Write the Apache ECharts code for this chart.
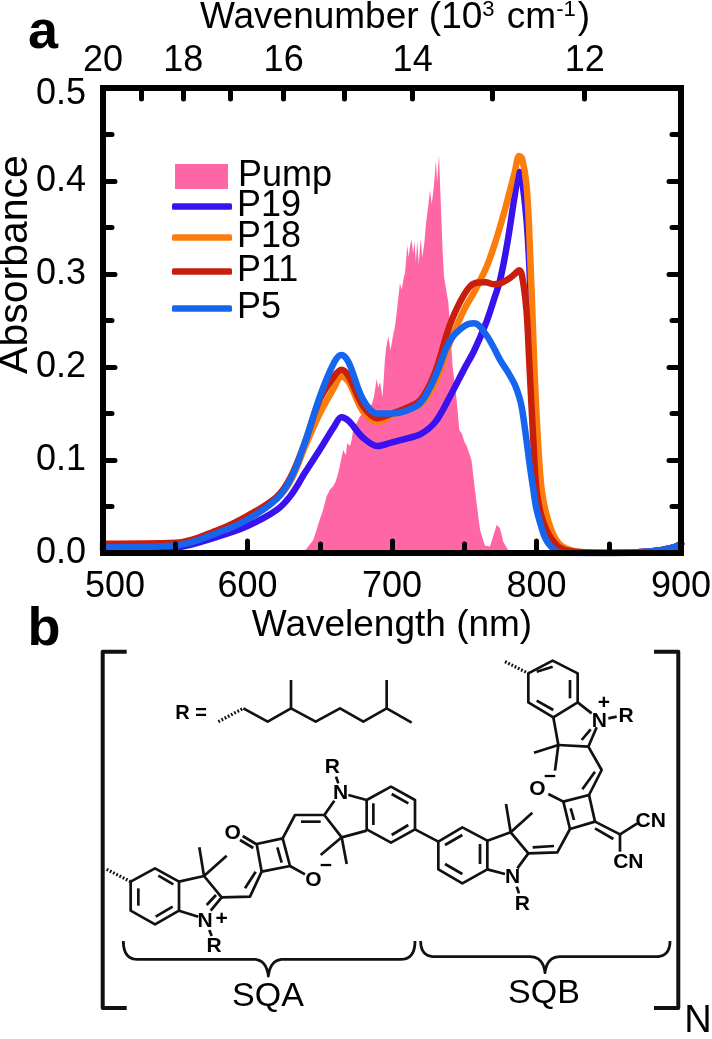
<!DOCTYPE html>
<html><head><meta charset="utf-8">
<style>html,body{margin:0;padding:0;background:#fff}#c{width:712px;height:1039px}</style>
<script src="https://cdn.jsdelivr.net/npm/echarts@6/dist/echarts.min.js"></script>
</head><body><div id="c"></div>
<script>
// ---- chart data ----
const wavelengths = [500,550,580,600,620,630,640,650,660,665,670,680,690,700,710,720,730,740,750,757,765,770,775,780,785,788,790,793,795,798,800,803,806,810,815,820,830,850,880,895,900];
const p5Values  = [.006,.008,.022,.036,.058,.080,.120,.168,.205,.213,.205,.165,.150,.150,.153,.162,.190,.228,.244,.247,.235,.222,.207,.195,.181,.168,.155,.122,.098,.066,.047,.030,.016,.007,.001,.000,.000,.000,.002,.006,.010];
const p11Values = [.010,.011,.025,.040,.060,.082,.120,.165,.190,.197,.190,.158,.145,.150,.156,.165,.195,.245,.278,.290,.291,.289,.290,.294,.300,.304,.298,.262,.205,.115,.068,.042,.028,.016,.007,.003,.001,.000,.002,.006,.010];
const p18Values = [.009,.010,.024,.038,.058,.078,.115,.150,.178,.190,.184,.152,.141,.148,.155,.160,.183,.226,.262,.281,.306,.327,.352,.380,.410,.427,.424,.397,.345,.222,.150,.076,.047,.026,.011,.005,.001,.000,.002,.006,.010];
const p19Values = [.004,.006,.018,.029,.046,.062,.087,.111,.136,.146,.142,.124,.115,.119,.123,.128,.141,.168,.198,.218,.247,.270,.295,.335,.385,.410,.400,.360,.310,.200,.130,.070,.040,.020,.008,.003,.000,.000,.002,.006,.010];
const pumpWavelengths = [636,640,645.5,648,650,652,654.8,657,659.4,661,662.8,664.5,666.3,668,669,670.9,672,673.2,675,677.8,680,682,684,686,687.5,689.4,690.5,691.7,693.5,695.1,696,697.4,699,700.5,702,703.5,705.5,706.7,708,709,710.6,711.5,712.5,713.6,714.6,715.6,716.5,717.5,718.5,719.8,721,722.5,723.5,725,726.3,727.5,729,730.4,731.2,732.5,733.7,735,736,739,742,744.7,746.6,748.5,750,751.7,755,757.4,760.9,764.3,767.8,770,772.4,774.7,777,781.6,785];
const pumpValues = [0,.003,.014,.026,.036,.045,.061,.068,.072,.077,.086,.098,.111,.105,.118,.115,.121,.133,.138,.147,.15,.152,.156,.16,.168,.187,.178,.184,.168,.208,.221,.233,.218,.232,.243,.262,.29,.283,.295,.301,.331,.318,.33,.337,.322,.335,.313,.336,.31,.338,.318,.335,.354,.372,.39,.375,.395,.422,.398,.428,.426,.326,.297,.269,.2,.165,.132,.128,.12,.115,.1,.068,.025,.008,.007,.018,.03,.027,.012,0,0];
const absorbanceRange = [0, 0.5];
const wavelengthRange = [500, 900];
const wavenumberLabels = [20,18,16,14,12];
const wavenumberMinor = [19,17,15,13];

// ---- colours and fonts ----
const FONT = '"Liberation Sans", Arial, sans-serif';
const PINK='#ff66a6', INDIGO='#3a12ee', ORANGE='#fb7d0c', RED='#c81f0c', BLUE='#1565ee';
const toPairs = (xs, ys) => ys.map((y,i)=>[xs[i],y]);
const toWl = k => 1e4/k;
const peakIndex = wavelengths.indexOf(788);

function lineSeries(name, values, color, z){
  return {type:'line', name, data:toPairs(wavelengths, values), smooth:0.35, symbol:'none', z,
    lineStyle:{width:6.5, color, cap:'round', join:'round'}, itemStyle:{color}, silent:true, animation:false};
}
const riseOfP19 = lineSeries('P19', p19Values.slice(0, peakIndex+1), INDIGO, 5);
riseOfP19.lineStyle.width = 5;

const series = [
  {type:'line', name:'Pump', data:toPairs(pumpWavelengths,pumpValues), symbol:'none', z:2,
   lineStyle:{width:0,color:PINK}, itemStyle:{color:PINK}, areaStyle:{color:PINK,opacity:1}, silent:true, animation:false},
  lineSeries('P19', p19Values, INDIGO, 3),
  lineSeries('P18', p18Values, ORANGE, 4),
  riseOfP19,
  lineSeries('P11', p11Values, RED, 6),
  lineSeries('P5', p5Values, BLUE, 7)
];

function legendRow(name, cy, color){
  const pump = name==='Pump';
  return {
    data:[{name, icon: pump?'rect':'roundRect', itemStyle:{color}}],
    left:pump?175:172, top:cy-12.5, padding:0, itemWidth:pump?53:60, itemHeight:pump?25:6.5, itemGap:0, selectedMode:false,
    textStyle:{fontFamily:FONT,fontSize:36,color:'#000',lineHeight:25,padding:[0,0,0,pump?5:0]}
  };
}
const legends = [
  legendRow('Pump',171,PINK),
  legendRow('P19',201,INDIGO),
  legendRow('P18',232,ORANGE),
  legendRow('P11',266,RED),
  legendRow('P5',303,BLUE)
];

// ---- axes ----
const AXIS_LINE = {show:true, onZero:false, lineStyle:{color:'#000',width:6,cap:'square'}};
const LABEL = {fontFamily:FONT,fontSize:36,color:'#000'};
const option = {
  animation:false, backgroundColor:'#fff',
  grid:{left:103,right:31,top:88,bottom:486,containLabel:false,outerBoundsMode:'none'},
  legend:legends,
  xAxis:[
    {type:'value',position:'bottom',min:wavelengthRange[0],max:wavelengthRange[1],interval:100,z:9,
     name:'Wavelength (nm)',nameLocation:'middle',nameGap:54,nameMoveOverlap:false,nameTextStyle:{fontFamily:FONT,fontSize:37,color:'#000',align:'center',verticalAlign:'top'},
     axisLine:AXIS_LINE,splitLine:{show:false},
     axisTick:{show:true,inside:true,length:12,lineStyle:{color:'#000',width:5,cap:'round'}},
     minorTick:{show:true,splitNumber:2,length:9,lineStyle:{color:'#000',width:5,cap:'round'}},
     axisLabel:Object.assign({},LABEL,{margin:16,showMinLabel:true,showMaxLabel:true,hideOverlap:false,
       formatter:v=>v===wavelengthRange[0]?'{first|'+v+'}':String(v),
       rich:{first:Object.assign({},LABEL,{padding:[0,0,0,24]})}})},
    {type:'value',position:'top',min:wavelengthRange[0],max:wavelengthRange[1],z:9,
     name:'Wavenumber (10{s|3} cm{s|-1})',nameLocation:'middle',nameGap:52,nameMoveOverlap:false,
     nameTextStyle:{fontFamily:FONT,fontSize:37,color:'#000',padding:[0,0,0,6],rich:{
       s:{fontFamily:FONT,fontSize:22,color:'#000',verticalAlign:'top',padding:[0,2,14,0]}}},
     axisLine:AXIS_LINE,splitLine:{show:false},
     axisTick:{show:true,inside:true,length:11,lineStyle:{color:'#000',width:5,cap:'round'},
       customValues:wavenumberLabels.concat(wavenumberMinor).map(toWl)},
     axisLabel:Object.assign({},LABEL,{margin:9,customValues:wavenumberLabels.map(toWl),
       formatter:v=>String(Math.round(1e4/v))})}
  ],
  yAxis:[
    {type:'value',position:'left',min:absorbanceRange[0],max:absorbanceRange[1],interval:0.1,z:9,
     name:'Absorbance',nameLocation:'middle',nameGap:67,nameMoveOverlap:false,
     nameTextStyle:{fontFamily:FONT,fontSize:41,color:'#000',padding:[0,0,0,112]},
     axisLine:AXIS_LINE,splitLine:{show:false},
     axisTick:{show:true,inside:true,length:12,lineStyle:{color:'#000',width:5,cap:'round'}},
     minorTick:{show:true,splitNumber:2,length:9,lineStyle:{color:'#000',width:5,cap:'round'}},
     axisLabel:Object.assign({},LABEL,{margin:17,hideOverlap:false,
       formatter:v=>v===absorbanceRange[1]?'{last|'+v.toFixed(1)+'}':v.toFixed(1),
       rich:{last:Object.assign({},LABEL,{padding:[12,0,0,0]})}})},
    {type:'value',position:'right',min:absorbanceRange[0],max:absorbanceRange[1],interval:0.1,z:9,
     axisLine:AXIS_LINE,splitLine:{show:false},
     axisTick:{show:true,inside:true,length:12,lineStyle:{color:'#000',width:5,cap:'round'}},
     minorTick:{show:true,splitNumber:2,length:9,lineStyle:{color:'#000',width:5,cap:'round'}},
     axisLabel:{show:false}}
  ],
  series:series
};

// ---- panel b: chemical structure (an illustration, not data) ----
const A = p => [90+p[0]/3, 640+p[1]/3];   // left half of the drawing
const B = p => [400+p[0]/3, 640+p[1]/3];  // right half of the drawing
const bondsA = [
 [[122,725],[195,685],[267,725],[267,812],[195,853],[122,812],[122,725]],
 [[145,745],[145,797]],[[205,707],[250,733]],[[197,830],[248,800]],
 [[267,725],[342,708],[395,772],[362,812]],[[350,795],[378,765]],[[267,812],[325,830]],
 [[342,708],[328,622]],[[342,708],[410,647]],[[358,870],[365,888]],
 [[395,772],[480,770],[515,695]],[[465,745],[497,695]],
 [[515,695],[600,678],[578,595],[500,612],[515,695]],[[562,622],[575,668]],
 [[498,612],[458,588]],[[490,624],[450,600]],
 [[600,678],[645,703]],
 [[578,595],[615,525],[703,525],[733,482]],[[633,545],[692,545]],
 [[745,430],[738,410]],[[775,465],[830,480]],
 [[703,525],[755,592],[830,572]],[[755,592],[692,645]],[[755,592],[770,672]],
 [[830,480],[903,440],[975,480],[975,568],[903,608],[830,568],[830,480]],
 [[850,490],[850,555]],[[905,462],[955,490]],[[905,585],[955,555]],
 [[460,205],[533,245],[603,205],[677,245],[750,205],[820,245],[890,205],[965,248]],
 [[603,205],[603,120]],[[890,205],[890,120]]
];
const bondsB = [
 [[45,568],[115,605]],
 [[115,605],[187,562],[262,602],[262,688],[187,730],[115,688],[115,605]],
 [[135,615],[187,585]],[[240,612],[240,672]],[[135,672],[187,702]],
 [[262,602],[332,577],[385,640],[352,685]],[[262,688],[315,702]],
 [[332,577],[318,492]],[[332,577],[397,518]],[[350,740],[357,760]],
 [[385,640],[472,637],[510,567]],[[398,622],[462,618]],
 [[510,567],[585,545],[567,465],[490,485],[510,567]],[[512,505],[522,540]],
 [[490,485],[445,462]],
 [[567,465],[605,390],[565,320],[475,315]],[[547,448],[585,395]],
 [[565,320],[590,262]],[[545,300],[572,268]],[[625,235],[650,230]],
 [[475,315],[460,232]],[[475,315],[402,338]],[[475,315],[465,392]],
 [[460,232],[385,187],[385,100],[458,62],[533,100],[533,187],[460,232]],
 [[533,187],[575,220]],[[410,182],[460,210]],[[510,120],[510,175]],[[410,95],[458,80]],
 [[585,545],[660,583],[712,550]],[[585,565],[640,597]],[[660,583],[660,635]]
];
const hashedA = [[[50,688],[122,725]],[[385,245],[460,205]]];
const hashedB = [[[315,65],[385,100]]];
const atomsA = [['N',345,843],['+',395,838],['R',372,920],['O',428,580],['O',670,720],['\u2212',708,680],['N',752,460],['R',727,382]];
const atomsB = [['N',338,712],['R',367,792],['O',412,448],['\u2212',450,412],['N',598,245],['+',612,190],['R',678,228],['CN',752,543],['CN',685,668]];
const bracketLeft = [[126.7,651.7],[102.7,651.7],[102.7,1008],[126.7,1008]];
const bracketRight = [[654,651.7],[678.3,651.7],[678.3,1008],[654,1008]];

const graphic = [];
const stroke = (w,dash)=>({stroke:'#111',lineWidth:w,fill:null,lineJoin:'round',lineDash:dash||null});
const poly = (pts,w,dash)=>graphic.push({type:'polyline',z:20,shape:{points:pts},style:stroke(w,dash)});
bondsA.forEach(b=>poly(b.map(A),2.7));
bondsB.forEach(b=>poly(b.map(B),2.7));
hashedA.forEach(b=>poly(b.map(A),3.2,[1.8,1.8]));
hashedB.forEach(b=>poly(b.map(B),3.2,[1.8,1.8]));
const txt=(s,x,y,size,weight,align)=>graphic.push({type:'text',z:20,x,y,style:{text:s,fontFamily:FONT,fontSize:size,fontWeight:weight||'normal',fill:'#000',textAlign:align||'center',textVerticalAlign:'middle'}});
atomsA.forEach(a=>{const p=A([a[1],a[2]]);txt(a[0],p[0],p[1],21,'bold');});
atomsB.forEach(a=>{const p=B([a[1],a[2]]);txt(a[0],p[0],p[1],21,'bold');});
poly(bracketLeft,4); poly(bracketRight,4);
// braces, sampled as polylines from quadratic curves
const quad=(p0,c,p1)=>{const r=[];for(let i=0;i<=12;i++){const t=i/12,u=1-t;r.push([u*u*p0[0]+2*u*t*c[0]+t*t*p1[0],u*u*p0[1]+2*u*t*c[1]+t*t*p1[1]]);}return r;};
const brace=(x0,x1,xm,yTop,yLine,yTip)=>{
  poly([].concat(
    quad([x0,yTop],[x0,yLine],[x0+14,yLine]),
    quad([xm-15,yLine],[xm-2,yLine],[xm,yTip]),
    quad([xm,yTip],[xm+2,yLine],[xm+15,yLine]),
    quad([x1-14,yLine],[x1,yLine],[x1,yTop])),2.8);
};
brace(A([100,0])[0],A([975,0])[0],A([535,0])[0],A([0,903])[1],A([0,958])[1],A([0,1008])[1]);
brace(B([62,0])[0],B([810,0])[0],B([435,0])[0],B([0,903])[1],B([0,950])[1],B([0,998])[1]);
txt('SQA',268,997,34);
txt('SQB',544,994,34);
txt('R =',191,713,20,'bold');
txt('N',698,1022,38);
txt('a',43,33,54,'bold');
txt('b',44,630,54,'bold');
option.graphic = graphic;

const chart = echarts.init(document.getElementById('c'),null,{renderer:'canvas'});
chart.setOption(option);
</script></body></html>
